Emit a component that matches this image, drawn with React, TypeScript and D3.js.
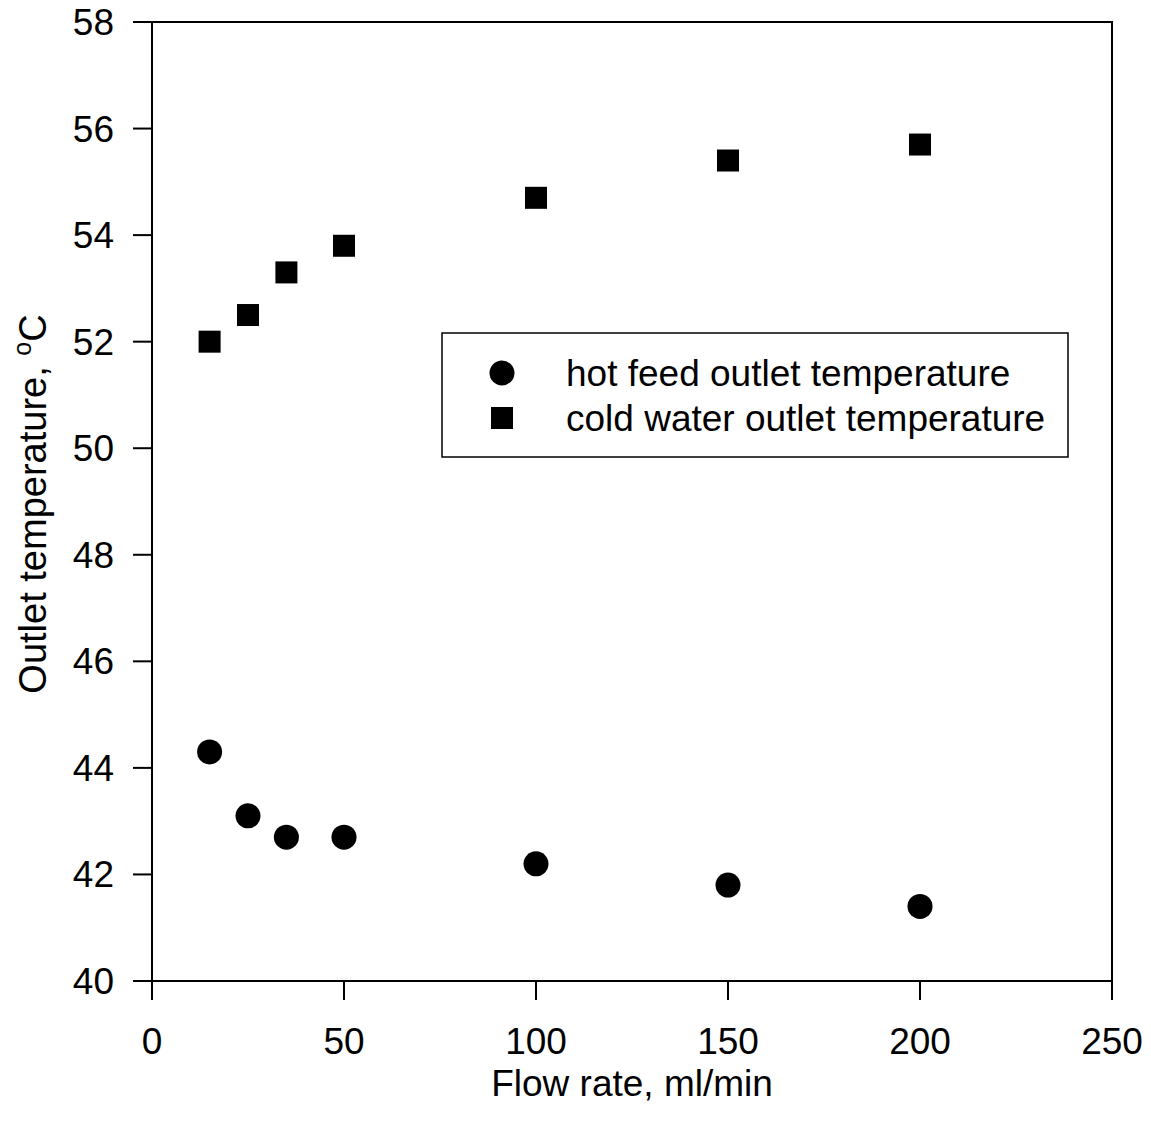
import React from "react";
import * as d3 from "d3";

const flowRates = [15, 25, 35, 50, 100, 150, 200];
const hotFeed = [44.3, 43.1, 42.7, 42.7, 42.2, 41.8, 41.4];
const coldWater = [52.0, 52.5, 53.3, 53.8, 54.7, 55.4, 55.7];
const xTicks = [0, 50, 100, 150, 200, 250];
const yTicks = [40, 42, 44, 46, 48, 50, 52, 54, 56, 58];
const legendLabels = ["hot feed outlet temperature", "cold water outlet temperature"];

export default function App() {
  const W = 1151, H = 1128;
  const L = 152, R = 1112, T = 22, B = 981;
  const x = d3.scaleLinear().domain([0, 250]).range([L, R]);
  const y = d3.scaleLinear().domain([40, 58]).range([B, T]);
  const font = "Liberation Sans, Arial, sans-serif";
  const sq = 22;
  const fs = 37;
  return (
    <svg width={W} height={H} style={{ position: "absolute", left: 0, top: 0, background: "#fff" }} fontFamily={font}>
      <rect x={0} y={0} width={W} height={H} fill="#fff" />
      <rect x={L} y={T} width={R - L} height={B - T} fill="none" stroke="#000" strokeWidth={2} />
      {xTicks.map((t) => (
        <g key={"x" + t}>
          <line x1={x(t)} x2={x(t)} y1={B} y2={B + 19} stroke="#000" strokeWidth={2} />
          <text x={x(t)} y={1054} fontSize={fs} textAnchor="middle">{t}</text>
        </g>
      ))}
      {yTicks.map((t) => (
        <g key={"y" + t}>
          <line x1={L - 19} x2={L} y1={y(t)} y2={y(t)} stroke="#000" strokeWidth={2} />
          <text x={114} y={y(t) + 13} fontSize={fs} textAnchor="end">{t}</text>
        </g>
      ))}
      <text x={x(125)} y={1096} fontSize={fs} textAnchor="middle">Flow rate, ml/min</text>
      <text transform={`translate(46, 504) rotate(-90)`} fontSize={38} textAnchor="middle">
        Outlet temperature, <tspan dy={-15} fontSize={25}>o</tspan><tspan dy={15}>C</tspan>
      </text>
      {flowRates.map((f, i) => (
        <circle key={"h" + i} cx={x(f)} cy={y(hotFeed[i])} r={12.5} fill="#000" />
      ))}
      {flowRates.map((f, i) => (
        <rect key={"c" + i} x={x(f) - sq / 2} y={y(coldWater[i]) - sq / 2} width={sq} height={sq} fill="#000" />
      ))}
      <rect x={442} y={333} width={626} height={124} fill="#fff" stroke="#000" strokeWidth={1.5} />
      <circle cx={502} cy={373} r={12.5} fill="#000" />
      <rect x={502 - sq / 2} y={418 - sq / 2} width={sq} height={sq} fill="#000" />
      <text x={566} y={386} fontSize={fs}>{legendLabels[0]}</text>
      <text x={566} y={431} fontSize={fs}>{legendLabels[1]}</text>
    </svg>
  );
}
